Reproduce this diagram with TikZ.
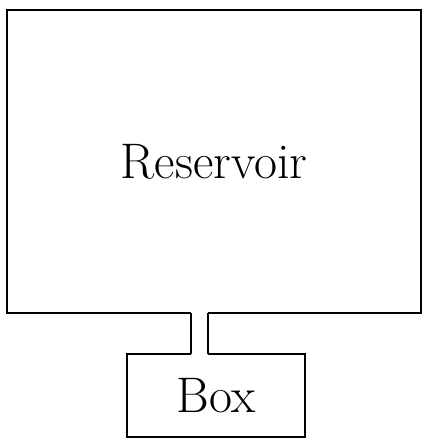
\documentclass[tikz,border=0pt]{standalone}
\usetikzlibrary{positioning}

\begin{document}
\begin{tikzpicture}
[
	tank/.style={draw,line width=1.4pt,inner sep=0pt,font=\fontsize{25}{30}\selectfont},
	pipe/.style={line width=1.4pt},
	x=0.5pt,
	y=-0.5pt
]

	\useasboundingbox (0,0) rectangle (425,442);

	% containers
	\node[tank,minimum width=207pt,minimum height=151.5pt] (reservoir) at (214,161.5) {Reservoir};
	\node[tank,minimum width=89pt,minimum height=41.5pt] (box) at (216,395.5) {Box};

	% pipe between them
	\coordinate (pl) at ([xshift=-11.5pt]reservoir.south);
	\coordinate (pr) at ([xshift=-3pt]reservoir.south);
	\fill[white] ([yshift=2pt]pl) rectangle ([yshift=-2pt]pr |- box.north);
	\draw[pipe] ([yshift=0.7pt]pl) -- ([yshift=-0.7pt]pl |- box.north);
	\draw[pipe] ([yshift=0.7pt]pr) -- ([yshift=-0.7pt]pr |- box.north);

\end{tikzpicture}
\end{document}
